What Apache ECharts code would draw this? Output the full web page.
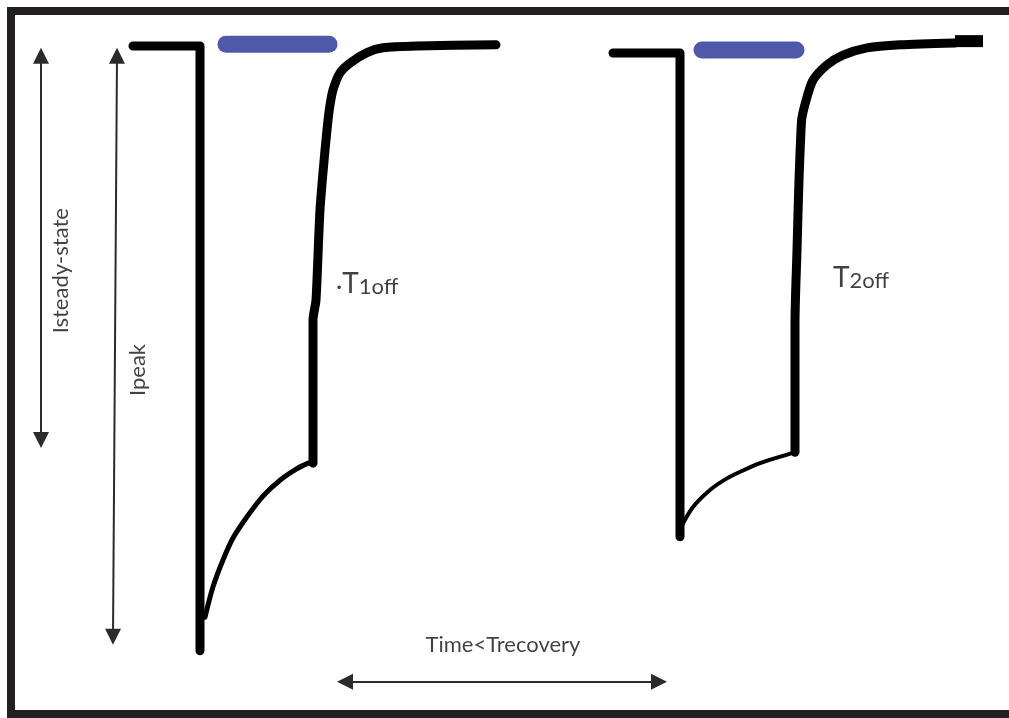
<!DOCTYPE html>
<html>
<head>
<meta charset="utf-8">
<script src="https://cdn.jsdelivr.net/npm/echarts@6/dist/echarts.min.js"></script>
<style>
  html, body { margin: 0; padding: 0; background: #ffffff; overflow: hidden; }
  #wrap { position: relative; width: 1009px; height: 718px; overflow: hidden; }
  #chart { position: absolute; left: 0; top: 0; width: 1009px; height: 718px; }
  #frame {
    position: absolute; left: 7px; top: 7px; width: 1100px; height: 711px;
    box-sizing: border-box; border: 8px solid #231f20; border-left-width: 8px;
    pointer-events: none;
  }
</style>
</head>
<body>
<div id="wrap">
  <div id="chart"></div>
  <div id="frame"></div>
</div>
<script>
// Time in ms, current normalised to the first peak (0 = steady holding level).

// First pulse: holding level, fast activation to peak
const onset1 = [[12.4, 0], [19.1, 0], [19.1, -0.993]];
// First pulse: desensitising decay while agonist is on
const decay1 = [
  [19.6, -0.938], [20.4, -0.888], [21.4, -0.844], [22.4, -0.808],
  [23.8, -0.773], [25.4, -0.739], [27.1, -0.713], [28.8, -0.694],
  [29.9, -0.685], [30.4, -0.682]
];
// First pulse: deactivation after agonist removal (T1off)
const recovery1 = [
  [30.4, -0.685], [30.4, -0.450], [30.7, -0.417], [31.1, -0.269],
  [31.6, -0.171], [31.9, -0.122], [32.1, -0.097], [32.4, -0.072],
  [33.1, -0.044], [34.1, -0.028], [35.8, -0.011], [37.4, -0.003],
  [40.8, 0], [48.7, 0.002]
];

// Second pulse
const onset2 = [[60.4, -0.0115], [67.1, -0.0115], [67.1, -0.806]];
const decay2 = [
  [67.3, -0.787], [68.4, -0.757], [70.1, -0.729], [71.8, -0.710],
  [73.4, -0.697], [75.1, -0.685], [76.8, -0.676], [78.6, -0.667]
];
const recovery2 = [
  [78.6, -0.667], [78.6, -0.455], [78.8, -0.335], [79.0, -0.220],
  [79.2, -0.138], [79.3, -0.117], [79.8, -0.084], [80.4, -0.056],
  [81.8, -0.031], [83.4, -0.015], [85.8, -0.003], [89.1, 0.002],
  [94.6, 0.005]
];
const recoveryTail2 = [[94.6, 0.008], [97.4, 0.008]];

// Agonist application periods: [start, end, level]
const pulse1 = [21.7, 32.0, 0.003];
const pulse2 = [69.3, 78.7, -0.0066];

// Double-headed measurement arrows: [[t, I], [t, I]]
const arrowSteady = [[3.2, -0.016], [3.2, -0.647]];
const arrowPeak = [[10.8, -0.016], [10.4, -0.970]];
const arrowInterval = [[33.6, -1.044], [65.0, -1.044]];

// Annotation texts and anchors
const labelSteady = { text: 'Isteady-state', at: [5.2, -0.369] };
const labelPeak = { text: 'Ipeak', at: [12.9, -0.532] };
const labelT1 = { main: 'T', sub: '1off', at: [32.7, -0.389] };
const labelT2 = { main: 'T', sub: '2off', at: [82.4, -0.379] };
const labelInterval = { text: 'Time<Trecovery', at: [49.4, -0.984] };

const FONT = 'Lato, "Open Sans", sans-serif';
const INK = '#111111';

function trace(data, width, smooth, cap) {
  return {
    type: 'line',
    data: data,
    symbol: 'none',
    smooth: smooth,
    clip: false,
    silent: true,
    lineStyle: { color: '#000000', width: width, cap: cap || 'round', join: 'round' }
  };
}

function pulseBar(p) {
  return {
    type: 'line',
    data: [[p[0], p[2]], [p[1], p[2]]],
    symbol: 'none',
    clip: false,
    silent: true,
    lineStyle: { color: '#4f58a9', width: 17, cap: 'round' }
  };
}

function arrow(a) {
  return [{ coord: a[0] }, { coord: a[1] }];
}

const offRich = {
  dot: { fontFamily: FONT, fontSize: 24, color: INK, verticalAlign: 'bottom', lineHeight: 30 },
  big: { fontFamily: FONT, fontSize: 28, color: INK, verticalAlign: 'bottom', lineHeight: 30 },
  sub: { fontFamily: FONT, fontSize: 22, color: INK, verticalAlign: 'bottom', lineHeight: 30 }
};

const chart = echarts.init(document.getElementById('chart'), null, { renderer: 'canvas' });

chart.setOption({
  animation: false,
  backgroundColor: '#ffffff',
  grid: { left: 9, width: 1000, top: 15.55, height: 700.35 },
  xAxis: { type: 'value', min: 0, max: 100, show: false },
  yAxis: { type: 'value', min: -1.1, max: 0.05, show: false },
  series: [
    pulseBar(pulse1),
    pulseBar(pulse2),
    trace(onset1, 9, false),
    trace(decay1, 5, 0.3),
    trace(recovery1, 9, 0.25),
    trace(onset2, 9, false),
    trace(decay2, 4, 0.3),
    trace(recovery2, 9, 0.25),
    trace(recoveryTail2, 12, false, 'butt'),
    {
      type: 'line',
      data: [],
      silent: true,
      markLine: {
        silent: true,
        symbol: ['triangle', 'triangle'],
        symbolSize: [16, 16],
        label: { show: false },
        lineStyle: { color: '#2b2b2b', width: 2, type: 'solid' },
        data: [arrow(arrowSteady), arrow(arrowPeak), arrow(arrowInterval)]
      }
    },
    {
      type: 'scatter',
      symbolSize: 0,
      silent: true,
      data: [
        {
          value: labelSteady.at,
          label: { show: true, position: 'inside', formatter: labelSteady.text, rotate: 90,
            fontFamily: FONT, fontSize: 22, color: INK }
        },
        {
          value: labelPeak.at,
          label: { show: true, position: 'inside', formatter: labelPeak.text, rotate: 90,
            fontFamily: FONT, fontSize: 22, color: INK }
        },
        {
          value: labelInterval.at,
          label: { show: true, position: 'inside', formatter: labelInterval.text,
            fontFamily: FONT, fontSize: 22, color: INK }
        },
        {
          value: labelT1.at,
          label: { show: true, position: 'right', distance: 0,
            formatter: '{dot|·}{big|' + labelT1.main + '}{sub|' + labelT1.sub + '}',
            rich: offRich }
        },
        {
          value: labelT2.at,
          label: { show: true, position: 'right', distance: 0,
            formatter: '{big|' + labelT2.main + '}{sub|' + labelT2.sub + '}',
            rich: offRich }
        }
      ]
    }
  ]
});
</script>
</body>
</html>
